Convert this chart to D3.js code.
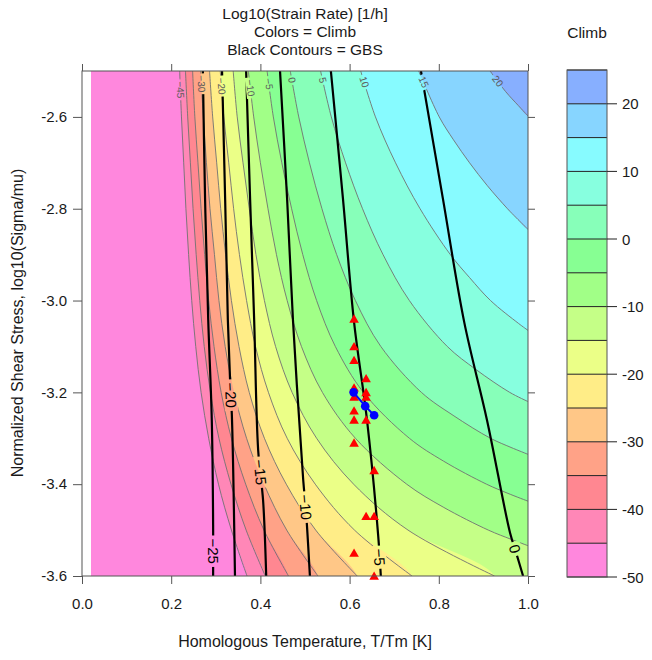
<!DOCTYPE html>
<html>
<head>
<meta charset="utf-8">
<script src="https://cdn.jsdelivr.net/npm/d3@7"></script>
<style>
  body { margin: 0; background: #fff; }
  svg { display: block; }
  text { font-family: "Liberation Sans", Arial, sans-serif; }
</style>
</head>
<body>
<svg id="chart" width="652" height="660"></svg>
<script>
// ---------- data ----------
// Climb contour levels (log10 strain rate); each line is [T/Tm, log10(sigma/mu)] from the top edge down
const climbLevels = [-45, -40, -35, -30, -25, -20, -15, -10, -5, 0, 5, 10, 15, 20];
const rowsY = [-2.5, -2.6, -2.7, -2.8, -2.9, -3.0, -3.1, -3.2, -3.3, -3.4, -3.5, -3.6];
const climbM45 = [0.219, 0.223, 0.228, 0.233, 0.239, 0.246, 0.255, 0.267, 0.284, 0.306, 0.335, 0.370];
const climbM40 = [0.232, 0.237, 0.243, 0.249, 0.256, 0.264, 0.274, 0.288, 0.307, 0.334, 0.368, 0.411];
const climbM35 = [0.248, 0.253, 0.260, 0.267, 0.275, 0.284, 0.296, 0.312, 0.335, 0.367, 0.408, 0.463];
const climbM30 = [0.266, 0.272, 0.279, 0.287, 0.297, 0.307, 0.321, 0.341, 0.369, 0.408, 0.459, 0.529];
const climbM25 = [0.286, 0.293, 0.302, 0.311, 0.322, 0.335, 0.352, 0.375, 0.409, 0.458, 0.524, 0.617];
const climbM20 = [0.310, 0.318, 0.329, 0.340, 0.353, 0.369, 0.389, 0.418, 0.460, 0.523, 0.611, 0.740];
const climbM15 = [0.339, 0.348, 0.361, 0.375, 0.390, 0.409, 0.434, 0.471, 0.526, 0.609, 0.731, 0.925];
const climbM10 = [0.373, 0.385, 0.400, 0.417, 0.436, 0.460, 0.492, 0.539, 0.613, 0.728];
const climbM10Tail = [[0.810, -3.45], [0.911, -3.50], [0.962, -3.52], [1.0, -3.534]];
const climbM5 = [0.415, 0.429, 0.448, 0.470, 0.495, 0.526, 0.568, 0.631, 0.734];
const climbM5Tail = [[0.811, -3.35], [0.907, -3.40], [0.955, -3.42], [1.0, -3.437]];
const climb0 = [0.467, 0.486, 0.510, 0.538, 0.571, 0.613, 0.670, 0.761];
const climb0Tail = [[0.832, -3.25], [0.916, -3.30], [0.962, -3.32], [1.0, -3.335]];
const climb5 = [0.535, 0.559, 0.591, 0.629, 0.675, 0.734, 0.819];
const climb5Tail = [[0.883, -3.15], [0.959, -3.20], [1.0, -3.22]];
const climb10 = [0.625, 0.658, 0.703, 0.758, 0.826];
const climb10Tail = [[0.869, -2.95], [0.916, -3.00], [0.979, -3.05], [1.0, -3.065]];
const climb15 = [[0.755, -2.5], [0.801, -2.6], [0.833, -2.65], [0.869, -2.7], [0.909, -2.75], [0.954, -2.8], [0.974, -2.82], [1.0, -2.845]];
const climb20 = [[0.915, -2.5], [0.950, -2.545], [0.978, -2.575], [1.0, -2.598]];

// labelled climb levels and the height of each label's centre
const climbLabelLevels = [-45, -30, -20, -10, -5, 0, 5, 10, 15, 20];
const climbLabelY = [-2.541, -2.528, -2.533, -2.537, -2.528, -2.520, -2.520, -2.524, -2.524, -2.522];

// GBS contour levels (black lines)
const gbsLevels = [-25, -20, -15, -10, -5, 0];
const gbsM25 = [[0.271, -2.5], [0.276, -2.781], [0.283, -3.042], [0.291, -3.26], [0.294, -3.489], [0.294, -3.6]];
const gbsM20 = [[0.314, -2.5], [0.321, -2.781], [0.327, -3.042], [0.332, -3.173], [0.336, -3.249], [0.343, -3.6]];
const gbsM15 = [[0.368, -2.5], [0.377, -2.781], [0.386, -3.042], [0.395, -3.326], [0.406, -3.435], [0.413, -3.6]];
const gbsM10 = [[0.444, -2.5], [0.460, -2.781], [0.473, -3.042], [0.496, -3.391], [0.502, -3.456], [0.511, -3.6]];
const gbsM5 = [[0.558, -2.5], [0.585, -2.777], [0.610, -3.047], [0.639, -3.26], [0.664, -3.511], [0.670, -3.6]];
const gbs0 = [[0.760, -2.5], [0.809, -2.777], [0.857, -3.047], [0.908, -3.26], [0.960, -3.507], [0.973, -3.548], [0.989, -3.6]];
const gbsLabelY = [-3.546, -3.206, -3.374, -3.450, -3.559, -3.541];

// experimental points (red triangles) and the blue path
const triT = [0.61, 0.61, 0.61, 0.61, 0.61, 0.61, 0.61, 0.61, 0.61, 0.637, 0.637, 0.637, 0.637, 0.637, 0.655, 0.655, 0.655];
const triY = [-3.04, -3.10, -3.13, -3.19, -3.21, -3.24, -3.26, -3.31, -3.55, -3.17, -3.20, -3.21, -3.26, -3.47, -3.37, -3.47, -3.60];
const pathT = [0.609, 0.635, 0.655];
const pathY = [-3.20, -3.23, -3.25];

// axis ticks and colour key
const xTicks = [0, 0.2, 0.4, 0.6, 0.8, 1.0];
const yTicks = [-2.6, -2.8, -3.0, -3.2, -3.4, -3.6];
const keyBreaks = [-50, -45, -40, -35, -30, -25, -20, -15, -10, -5, 0, 5, 10, 15, 20, 25];
const keyTicks = [-50, -40, -30, -20, -10, 0, 10, 20];
const dataXMin = 0.02;

// ---------- styling ----------
const palette = ["#FF87DD", "#FF87B7", "#FF8791", "#FFA287", "#FFC787", "#FFED87", "#EBFF87",
  "#C5FF87", "#A1FF87", "#87FF93", "#87FFB9", "#87FFDF", "#87FBFF", "#87D5FF", "#87AFFF"];
const axisCol = "#555";
const textCol = "#1a1a1a";

// assemble the climb lines into [t, y] point lists
const rowLine = (ts, tail = []) => ts.map((t, i) => [t, rowsY[i]]).concat(tail);
const climbLines = [
  rowLine(climbM45), rowLine(climbM40), rowLine(climbM35), rowLine(climbM30),
  rowLine(climbM25), rowLine(climbM20), rowLine(climbM15), rowLine(climbM10, climbM10Tail),
  rowLine(climbM5, climbM5Tail), rowLine(climb0, climb0Tail), rowLine(climb5, climb5Tail),
  rowLine(climb10, climb10Tail), climb15, climb20
];
const gbsLines = [gbsM25, gbsM20, gbsM15, gbsM10, gbsM5, gbs0];

// ---------- scales ----------
const x = d3.scaleLinear().domain([0, 1]).range([82, 528]);
const y = d3.scaleLinear().domain([-3.6, -2.5]).range([576, 71]);
const yKey = d3.scaleLinear().domain([-50, 25]).range([577, 70]);

const svg = d3.select("#chart");
const defs = svg.append("defs");
defs.append("clipPath").attr("id", "plotClip").append("rect")
  .attr("x", x(dataXMin)).attr("y", y(-2.5))
  .attr("width", x(1) - x(dataXMin)).attr("height", y(-3.6) - y(-2.5));

const line = d3.line().x(d => x(d[0])).y(d => y(d[1])).curve(d3.curveCatmullRom.alpha(0.5));

// ---------- filled climb bands (painted from the lowest level upward) ----------
const gFill = svg.append("g").attr("clip-path", "url(#plotClip)");
gFill.append("rect")
  .attr("x", x(dataXMin)).attr("y", y(-2.5))
  .attr("width", x(1) - x(dataXMin)).attr("height", y(-3.6) - y(-2.5))
  .attr("fill", palette[0]);

climbLines.forEach((pts, i) => {
  const first = pts[0], last = pts[pts.length - 1];
  const ext = pts.slice();
  if (last[1] <= -3.6 + 1e-9) ext.push([last[0] + 0.005, -3.66]);
  else ext.push([1.03, last[1]]);
  let d = line(ext);
  const lastExt = ext[ext.length - 1];
  d += `L${x(1.05)},${y(lastExt[1])}L${x(1.05)},${y(-2.44)}L${x(first[0])},${y(-2.44)}Z`;
  gFill.append("path").attr("d", d).attr("fill", palette[i + 1]).attr("stroke", "none");
});

// ---------- label helper ----------
function locate(pts, yv) {
  for (let i = 0; i < pts.length - 1; i++) {
    const a = pts[i], b = pts[i + 1];
    if (a[1] >= yv && b[1] <= yv) {
      const f = (a[1] - yv) / (a[1] - b[1]);
      const t = a[0] + f * (b[0] - a[0]);
      const ang = Math.atan2(y(b[1]) - y(a[1]), x(b[0]) - x(a[0])) * 180 / Math.PI;
      return { px: x(t), py: y(yv), ang };
    }
  }
  const p = pts[pts.length - 1];
  return { px: x(p[0]), py: y(p[1]), ang: 90 };
}

const mask = defs.append("mask").attr("id", "labelGap").attr("maskUnits", "userSpaceOnUse")
  .attr("x", 0).attr("y", 0).attr("width", 652).attr("height", 660);
mask.append("rect").attr("x", 0).attr("y", 0).attr("width", 652).attr("height", 660).attr("fill", "#fff");

// ---------- climb contour lines ----------
const gLines = svg.append("g").attr("clip-path", "url(#plotClip)");
const gClimb = gLines.append("g").attr("mask", "url(#labelGap)");
climbLines.forEach(pts => {
  gClimb.append("path").attr("d", line(pts)).attr("fill", "none")
    .attr("stroke", "#727272").attr("stroke-width", 0.9);
});

// ---------- GBS contour lines ----------
const gGbs = gLines.append("g").attr("mask", "url(#labelGap)");
gbsLines.forEach(pts => {
  gGbs.append("path").attr("d", line(pts)).attr("fill", "none")
    .attr("stroke", "#000").attr("stroke-width", 2.2);
});

// ---------- contour labels ----------
const gLab = svg.append("g");
function addLabel(txt, pos, size, family, color, gap) {
  const t = gLab.append("text")
    .attr("transform", `translate(${pos.px},${pos.py}) rotate(${pos.ang})`)
    .attr("text-anchor", "middle").attr("dominant-baseline", "central")
    .attr("font-size", size).attr("font-family", family).attr("fill", color)
    .text(txt);
  const len = t.node().getComputedTextLength();
  mask.append("rect")
    .attr("x", -len / 2 - gap).attr("y", -size * 0.45)
    .attr("width", len + 2 * gap).attr("height", size * 0.9)
    .attr("transform", `translate(${pos.px},${pos.py}) rotate(${pos.ang})`)
    .attr("fill", "#000");
}
const fmt = v => (v < 0 ? "\u2212" + Math.abs(v) : String(v));
climbLabelLevels.forEach((lev, k) => {
  const pts = climbLines[climbLevels.indexOf(lev)];
  addLabel(fmt(lev), locate(pts, climbLabelY[k]), 10, "Liberation Sans, Arial, sans-serif", "#5a5a5a", 2);
});
gbsLevels.forEach((lev, k) => {
  addLabel(fmt(lev), locate(gbsLines[k], gbsLabelY[k]), 15, "Liberation Serif, Times New Roman, serif", "#000", 3);
});

// ---------- points ----------
const gPts = svg.append("g");
gPts.selectAll("path.tri").data(triT.map((t, i) => [t, triY[i]])).join("path")
  .attr("class", "tri")
  .attr("d", d3.symbol().type(d3.symbolTriangle).size(40))
  .attr("transform", d => `translate(${x(d[0])},${y(d[1]) + 1})`)
  .attr("fill", "#FF0000");
const bluePts = pathT.map((t, i) => [t, pathY[i]]);
gPts.append("path").attr("d", d3.line().x(d => x(d[0])).y(d => y(d[1]))(bluePts))
  .attr("fill", "none").attr("stroke", "#0000FF").attr("stroke-width", 2);
gPts.selectAll("circle").data(bluePts).join("circle")
  .attr("cx", d => x(d[0])).attr("cy", d => y(d[1])).attr("r", 4.3).attr("fill", "#0000FF");

// ---------- axes (box with ticks on all four sides) ----------
svg.append("rect").attr("x", x(0)).attr("y", y(-2.5))
  .attr("width", x(1) - x(0)).attr("height", y(-3.6) - y(-2.5))
  .attr("fill", "none").attr("stroke", axisCol).attr("stroke-width", 1);

const tickFmt = d => d.toFixed(1);
const axB = svg.append("g").attr("transform", `translate(0,${y(-3.6)})`)
  .call(d3.axisBottom(x).tickValues(xTicks).tickFormat(tickFmt).tickSize(8).tickPadding(14));
const axT = svg.append("g").attr("transform", `translate(0,${y(-2.5)})`)
  .call(d3.axisTop(x).tickValues(xTicks).tickFormat("").tickSize(7));
const axL = svg.append("g").attr("transform", `translate(${x(0)},0)`)
  .call(d3.axisLeft(y).tickValues(yTicks).tickFormat(tickFmt).tickSize(9).tickPadding(6));
const axR = svg.append("g").attr("transform", `translate(${x(1)},0)`)
  .call(d3.axisRight(y).tickValues(yTicks).tickFormat("").tickSize(7));
[axB, axT, axL, axR].forEach(g => {
  g.select(".domain").remove();
  g.selectAll(".tick line").attr("stroke", axisCol);
  g.selectAll(".tick text").attr("font-size", 15).attr("fill", textCol)
    .attr("font-family", "Liberation Sans, Arial, sans-serif");
});

// ---------- titles ----------
const titleLines = ["Log10(Strain Rate) [1/h]", "Colors = Climb", "Black Contours = GBS"];
svg.append("g").selectAll("text").data(titleLines).join("text")
  .attr("x", 305).attr("y", (d, i) => 13 + i * 18)
  .attr("text-anchor", "middle").attr("dominant-baseline", "central")
  .attr("font-size", 15.5).attr("fill", textCol).text(d => d);
svg.append("text").attr("x", 305).attr("y", 641).attr("text-anchor", "middle")
  .attr("dominant-baseline", "central").attr("font-size", 16).attr("fill", textCol)
  .text("Homologous Temperature, T/Tm [K]");
svg.append("text").attr("transform", "translate(17,323) rotate(-90)")
  .attr("text-anchor", "middle").attr("dominant-baseline", "central")
  .attr("font-size", 16).attr("fill", textCol)
  .text("Normalized Shear Stress, log10(Sigma/mu)");

// ---------- colour key ----------
const kx0 = 567, kx1 = 607;
const gKey = svg.append("g");
svg.append("text").attr("x", 587).attr("y", 32).attr("text-anchor", "middle")
  .attr("dominant-baseline", "central").attr("font-size", 15.5).attr("fill", textCol).text("Climb");
keyBreaks.slice(0, -1).forEach((b, i) => {
  gKey.append("rect").attr("x", kx0).attr("y", yKey(keyBreaks[i + 1]))
    .attr("width", kx1 - kx0).attr("height", yKey(b) - yKey(keyBreaks[i + 1]))
    .attr("fill", palette[i]);
});
keyBreaks.forEach(b => {
  gKey.append("line").attr("x1", kx0).attr("x2", kx1).attr("y1", yKey(b)).attr("y2", yKey(b))
    .attr("stroke", "#222").attr("stroke-width", 1);
});
gKey.append("rect").attr("x", kx0).attr("y", yKey(25)).attr("width", kx1 - kx0)
  .attr("height", yKey(-50) - yKey(25)).attr("fill", "none").attr("stroke", axisCol);
keyTicks.forEach(v => {
  gKey.append("line").attr("x1", kx1).attr("x2", kx1 + 10).attr("y1", yKey(v)).attr("y2", yKey(v))
    .attr("stroke", "#222");
  gKey.append("text").attr("x", kx1 + 15).attr("y", yKey(v)).attr("dominant-baseline", "central")
    .attr("font-size", 15).attr("fill", textCol).text(String(v));
});
</script>
</body>
</html>
